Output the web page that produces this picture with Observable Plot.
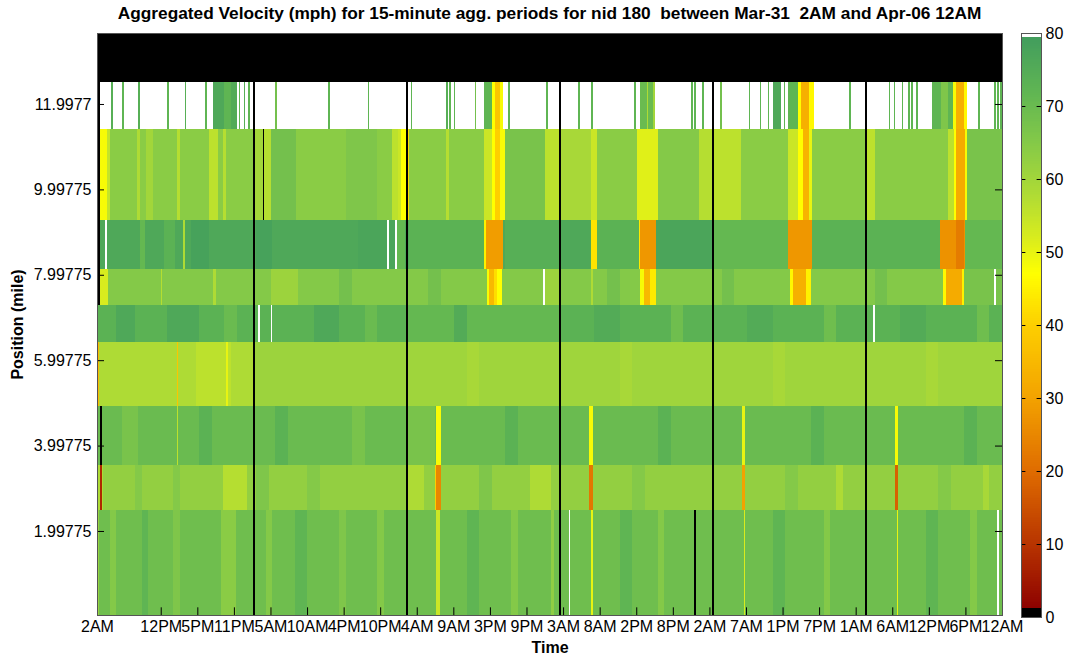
<!DOCTYPE html>
<html><head><meta charset="utf-8">
<script src="https://cdn.jsdelivr.net/npm/d3@7"></script>
<script src="https://cdn.jsdelivr.net/npm/@observablehq/plot@0.6"></script>
<style>
body{margin:0;background:#fff;}
#wrap{position:relative;width:1071px;height:659px;font-family:"Liberation Sans",Arial,sans-serif;}
#title{position:absolute;left:97px;width:905px;top:3px;text-align:center;font-weight:bold;font-size:17.3px;white-space:pre;color:#000;}
#main{position:absolute;left:0;top:0;}
#cbar{position:absolute;left:1011px;top:0;}
g[aria-label="x-axis label"] text, g[aria-label="y-axis label"] text{font-weight:bold;font-size:16px;}
</style></head><body>
<div id="wrap"><div id="main"></div><div id="cbar"></div><div id="title">Aggregated Velocity (mph) for 15-minute agg. periods for nid 180  between Mar-31  2AM and Apr-06 12AM</div></div>
<script>
// Time in hours since Mar-31 00:00 (data: Mar-31 2AM .. Apr-06 12AM, 15-min cells)
const tStart = 2, tEnd = 144;
const xTickVals = [2, 12, 17.74, 23.48, 29.22, 34.96, 40.70, 46.43, 52.17, 57.91, 63.65, 69.39, 75.13, 80.87, 86.61, 92.35, 98.09, 103.83, 109.57, 115.30, 121.04, 126.78, 132.52, 138.26, 144];
const xTickLabels = ["2AM","12PM","5PM","11PM","5AM","10AM","4PM","10PM","4AM","9AM","3PM","9PM","3AM","8AM","2PM","8PM","2AM","7AM","1PM","7PM","1AM","6AM","12PM","6PM","12AM"];
const yTickVals = [1.99775, 3.99775, 5.99775, 7.99775, 9.99775, 11.9977];
const yTickLabels = ["1.99775","3.99775","5.99775","7.99775","9.99775","11.9977"];
const cbTickVals = [0,10,20,30,40,50,60,70,80];

// Position band edges (mile), bottom to top
const bandEdges = [0.03, 2.49, 3.545, 4.935, 6.42, 7.287, 8.138, 9.287, 11.404, 12.513, 13.66];
// Base velocity of each band (null = no data / white)
const bandBase = [69, 62.5, 70, 60.5, 73, 65, 76, 64, null, 0];

// Daily zero-velocity (missing) 15-min columns at 2:30AM
const zeroCols = [26.5, 50.5, 74.5, 98.5, 122.5];

// Per-band segments [t0, t1, mph]
const segB1 = [[2,2.25,62],[4,5,65],[9,10,72],[14,15,66],[21.5,23.75,64],[28.5,29.5,65],[33,35,72],[40,41,66],[46,47,65],[55.25,55.75,54],[60,62,72],[67,68,65],[73.25,73.75,63],[76,76.25,null],[79.5,79.75,50],[84,86,72],[90,91,65],[95.75,96,0],[103.5,103.75,52],[108,110,72],[116,117,65],[127.5,127.75,50],[132,134,72],[139,140,65],[143.25,143.5,null]];
const segB2 = [[2,3,58],[2.5,2.75,8],[8,9,65],[14,15,65],[21.75,25.5,57],[27,29,66],[35,37,65],[50.5,53.25,58],[55,55.25,40],[55.25,56,25],[62,64,66],[70,73.25,58],[79.25,79.75,22],[86,88,65],[103.25,103.75,30],[110,112,65],[118,119,58],[127.25,127.75,18],[134,136,65],[141,142,59]];
const segB3 = [[2.5,2.75,0],[6,8.5,67],[14.5,14.75,56],[18,20,73],[30,32,73],[42,44,67],[50.5,55,67],[55.25,56,48],[66,68,73],[79.25,79.75,48],[90,92,73],[103.25,103.75,50],[114,116,73],[127.25,127.75,48],[138,140,73]];
const segB4 = [[2,2.25,35],[2.25,26.5,58],[14.5,14.75,38],[17.5,23,56],[22.25,22.5,50],[26.75,50.5,61],[60,62,59],[84,86,59],[108,110,59],[132,134,59]];
const segB5 = [[5,8,76],[13,18,76],[22,24,70],[27.25,27.5,null],[29.25,29.5,null],[36,40,76],[44,46,70],[50.75,74.5,71],[58,60,75],[80,84,75],[92,94,69],[104,108,75],[116,118,69],[123.75,124,null],[128,132,75],[140,142,69]];
const segB6 = [[2,2.5,0],[2.5,3.75,52],[12,12.25,57],[20.25,20.75,58],[29.25,33.5,61],[40,42,68],[54,56,68],[63.25,63.5,48],[63.5,64.25,35],[64.25,64.75,42],[64.75,65.5,47],[72,72.25,null],[72.25,74.5,61],[79.5,79.75,58],[82,84,68],[87.25,87.75,48],[87.75,88.75,35],[88.75,89.75,44],[100,102,68],[110.75,111.25,46],[111.25,113.25,33],[113.25,114,45],[124,126,68],[134.75,135.25,46],[135.25,137.75,32],[137.75,138,45],[138,144,67],[142.75,143,null]];
const segB7 = [[2,2.5,0],[3.25,3.5,null],[8.75,9.5,71],[12.5,14.25,73],[15.5,15.75,58],[16.75,19.5,78],[27,29.5,78],[43,49.5,77],[47.5,47.75,null],[48.75,49,null],[49,50.25,71],[51,62.75,73],[62.75,63,45],[63,65.75,29],[66,74.5,74],[79.5,80.5,43],[80.5,87,73],[87,87.25,44],[87.25,89.75,28],[89.75,98.5,77],[98.75,110.5,71],[110.5,114.25,28],[114.25,134.25,73],[134.25,138.25,27],[136.75,138,23],[138.25,144,71]];
const segB8 = [[2,2.5,0],[2.5,3.5,48],[3.5,4,55],[8.25,8.75,58],[9.75,10.75,60],[14.5,15,57],[19.5,21,56],[21.75,22.25,57],[26.75,28,60],[28,28.25,0],[28.25,29.25,57],[29.25,33.25,68],[41,46,66],[48.25,49.25,56],[49.25,49.75,54],[49.75,50.5,47],[50.75,51,42],[56.75,57.25,57],[62.75,64,54],[64,64.5,47],[64.5,65.25,40],[65.25,66,48],[66,72.25,67],[72.25,74.5,56],[74.75,79.5,59],[79.5,80.5,54],[86.75,90,51],[90,96.5,65],[96.5,98.5,57],[98.75,103,56],[110.5,112,54],[112,112.75,47],[112.75,113.75,34],[113.75,114.25,50],[122.75,124,56],[135.5,136.5,56],[136.5,136.75,47],[136.75,138.25,32],[138.25,138.5,48],[138.5,144,67]];
const segB9 = [[2,2.5,0],[4.25,4.5,74],[6,6.25,72],[8.5,8.75,74],[13,13.25,72],[15.75,16,74],[19,19.25,72],[20.25,22,76],[22,23,72],[23,24,75],[24.25,24.5,72],[25,25.25,74],[25.75,26,72],[30,30.25,68],[38.25,38.5,72],[44.5,44.75,72],[51.25,51.5,72],[56.75,57,74],[57.25,57.5,72],[58,58.25,72],[61.25,61.5,68],[62.75,64,72],[64,64.5,47],[64.5,65.25,38],[65.25,65.75,48],[66.5,66.75,72],[72.5,72.75,72],[77.5,77.75,72],[79.5,79.75,72],[86.25,86.5,72],[87.25,89.5,70],[88.25,88.5,58],[89.25,89.5,60],[95.25,95.5,72],[95.75,96,72],[97,97.25,72],[99.75,100,68],[104.25,104.5,72],[106,106.25,72],[107.25,107.5,72],[108,109.25,76],[109.75,110,72],[110.5,112,72],[112,112.5,47],[112.5,113.75,33],[113.75,114.5,46],[120,120.25,72],[126.25,126.5,72],[127,127.25,72],[128.25,128.5,72],[129.25,129.5,72],[129.75,130,72],[130.5,130.75,72],[133,136.25,72],[134.5,135.5,66],[136.25,136.75,48],[136.75,138,33],[138,138.5,46],[140.25,140.5,72],[142.75,143,72],[143.25,143.5,72],[143.75,144,72]];
const segB10 = [];
const bandSegs = [segB1, segB2, segB3, segB4, segB5, segB6, segB7, segB8, segB9, segB10];

// Colormap (mph -> colour), 0 = black, missing = white
const cStops = [1, 10, 20, 30, 40, 47, 52, 58, 65, 72, 80];
const cColors = ["#8c0000","#b83400","#df6c00","#f3a200","#fdcf00","#ffff00","#d8ec1e","#aedb35","#84c948","#5fb553","#3f9b5e"];
const cmap = d3.scaleLinear().domain(cStops).range(cColors).clamp(true);
const colorOf = v => v === null ? "#ffffff" : (v <= 0 ? "#000000" : cmap(v));

const cells = [];
bandBase.forEach((b, i) => cells.push({t0: tStart, t1: tEnd, y0: bandEdges[i], y1: bandEdges[i+1], fill: colorOf(b)}));
bandSegs.forEach((segs, i) => segs.forEach(([a, c, v]) => cells.push({t0: a, t1: c, y0: bandEdges[i], y1: bandEdges[i+1], fill: colorOf(v)})));
zeroCols.forEach(t => cells.push({t0: t, t1: t + 0.25, y0: bandEdges[0], y1: bandEdges[9], fill: colorOf(0)}));

const yMin = bandEdges[0], yMax = bandEdges[bandEdges.length - 1];
const xLab = new Map(xTickVals.map((v, i) => [v, xTickLabels[i]]));
const yLab = new Map(yTickVals.map((v, i) => [v, yTickLabels[i]]));
const font = '"Liberation Sans", Arial, sans-serif';

const main = Plot.plot({
  width: 1071, height: 659,
  marginLeft: 97, marginRight: 69, marginTop: 33, marginBottom: 44,
  style: {fontFamily: font, fontSize: "16px", color: "#000", background: "transparent"},
  x: {domain: [tStart, tEnd]},
  y: {domain: [yMin, yMax]},
  marks: [
    Plot.rect(cells, {x1: "t0", x2: "t1", y1: "y0", y2: "y1", fill: "fill", shapeRendering: "crispEdges"}),
    Plot.ruleX(xTickVals, {x: d => d, y1: yMin, y2: yMin + 0.18, stroke: "#000"}),
    Plot.ruleY(yTickVals, {y: d => d, x1: tStart, x2: tStart + 1.1, stroke: "#000"}),
    Plot.ruleY(yTickVals, {y: d => d, x1: tEnd - 1.1, x2: tEnd, stroke: "#000"}),
    Plot.frame({stroke: "#555"}),
    Plot.axisX({ticks: xTickVals, tickFormat: d => xLab.get(d), tickSize: 0, tickPadding: 5, fontSize: 16, label: "Time", labelAnchor: "center", labelOffset: 37, labelArrow: "none"}),
    Plot.axisY({ticks: yTickVals, tickFormat: d => yLab.get(d), tickSize: 0, tickPadding: 6, fontSize: 16, label: "Position (mile)", labelAnchor: "center", labelOffset: 86, labelArrow: "none"})
  ]
});
document.getElementById("main").appendChild(main);

// Colour bar
const cbCells = d3.range(0, 80, 0.25).map(v => ({v0: v, v1: v + 0.25, fill: v < 1.1 ? "#000000" : (v >= 79.5 ? "#ffffff" : cmap(v + 0.125))}));
const cb = Plot.plot({
  width: 60, height: 659, marginLeft: 10, marginRight: 30, marginTop: 33, marginBottom: 42,
  style: {fontFamily: font, fontSize: "16px", color: "#000", background: "transparent"},
  x: {domain: [0, 1], axis: null},
  y: {domain: [0, 80]},
  marks: [
    Plot.rect(cbCells, {x1: 0, x2: 1, y1: "v0", y2: "v1", fill: "fill", shapeRendering: "crispEdges"}),
    Plot.ruleY(cbTickVals, {y: d => d, x1: 0, x2: 0.22, stroke: "#000"}),
    Plot.ruleY(cbTickVals, {y: d => d, x1: 0.78, x2: 1, stroke: "#000"}),
    Plot.frame({stroke: "#555"}),
    Plot.axisY({anchor: "right", ticks: cbTickVals, tickSize: 0, tickPadding: 4, fontSize: 16, label: null})
  ]
});
document.getElementById("cbar").appendChild(cb);
</script>
</body></html>
